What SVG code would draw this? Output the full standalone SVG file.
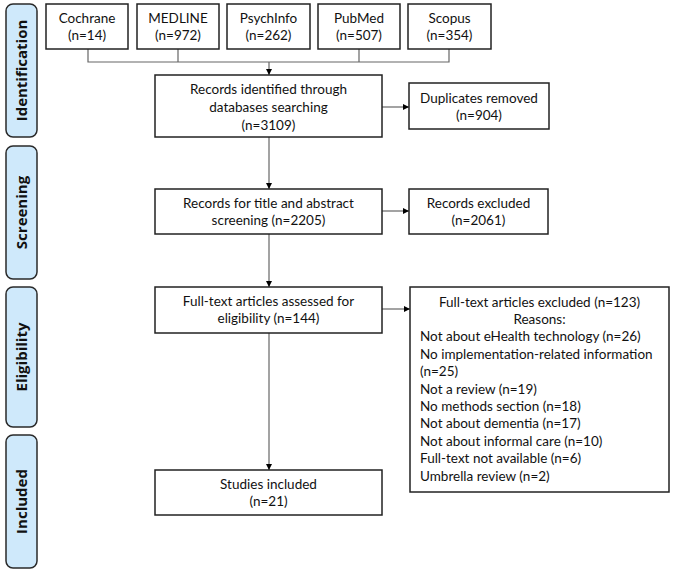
<svg xmlns="http://www.w3.org/2000/svg" width="676" height="573" viewBox="0 0 676 573">
<style>
.box{fill:#fff;stroke:#222;stroke-width:1.5}
.side{fill:#cfe9fb;stroke:#2a2a2a;stroke-width:1.5}
.t{font-family:Lato,"Open Sans","Liberation Sans",sans-serif;font-size:13.5px;fill:#111;text-anchor:middle}
.tl{font-family:Lato,"Open Sans","Liberation Sans",sans-serif;font-size:13.5px;fill:#111}
.s{font-family:"Open Sans","Liberation Sans",sans-serif;font-size:15px;font-weight:bold;fill:#111;text-anchor:middle}
.c{fill:none;stroke:#666;stroke-width:1.2}
</style>
<defs>
<marker id="ah" viewBox="0 0 10 10" refX="10" refY="5" markerWidth="6" markerHeight="6" orient="auto" markerUnits="userSpaceOnUse">
<path d="M0,0L10,5L0,10z" fill="#000"/>
</marker>
</defs>
<g id="side-identification"><rect class="side" x="6" y="4" width="31" height="133" rx="7"/><text class="s" transform="translate(27,70.5) rotate(-90)">Identification</text></g>
<g id="side-screening"><rect class="side" x="6" y="146" width="31" height="133" rx="7"/><text class="s" transform="translate(27,212.5) rotate(-90)">Screening</text></g>
<g id="side-eligibility"><rect class="side" x="6" y="287" width="31" height="140" rx="7"/><text class="s" transform="translate(27,357) rotate(-90)">Eligibility</text></g>
<g id="side-included"><rect class="side" x="6" y="435" width="31" height="133" rx="7"/><text class="s" transform="translate(27,501.5) rotate(-90)">Included</text></g>

<g id="connectors">
<path class="c" d="M88,49V62H449V49M178,49V62M359,49V62"/>
<path class="c" d="M269,62V75" marker-end="url(#ah)"/>
<path class="c" d="M382,107H409" marker-end="url(#ah)"/>
<path class="c" d="M269,137V189" marker-end="url(#ah)"/>
<path class="c" d="M382,211H409" marker-end="url(#ah)"/>
<path class="c" d="M269,234V287" marker-end="url(#ah)"/>
<path class="c" d="M382,309H410" marker-end="url(#ah)"/>
<path class="c" d="M269,333V470" marker-end="url(#ah)"/>
</g>

<g id="cochrane"><rect class="box" x="46" y="4" width="82" height="45"/><text class="t" x="87" y="23">Cochrane</text><text class="t" x="87" y="40">(n=14)</text></g>
<g id="medline"><rect class="box" x="137" y="4" width="82" height="45"/><text class="t" x="178" y="23">MEDLINE</text><text class="t" x="178" y="40">(n=972)</text></g>
<g id="psychinfo"><rect class="box" x="227" y="4" width="83" height="45"/><text class="t" x="268.5" y="23">PsychInfo</text><text class="t" x="268.5" y="40">(n=262)</text></g>
<g id="pubmed"><rect class="box" x="318" y="4" width="82" height="45"/><text class="t" x="359" y="23">PubMed</text><text class="t" x="359" y="40">(n=507)</text></g>
<g id="scopus"><rect class="box" x="408" y="4" width="83" height="45"/><text class="t" x="449.5" y="23">Scopus</text><text class="t" x="449.5" y="40">(n=354)</text></g>

<g id="identified"><rect class="box" x="155" y="75" width="227" height="62"/><text class="t" x="268.5" y="94">Records identified through</text><text class="t" x="268.5" y="112">databases searching</text><text class="t" x="268.5" y="130">(n=3109)</text></g>
<g id="duplicates"><rect class="box" x="409" y="83" width="140" height="46"/><text class="t" x="479" y="103">Duplicates removed</text><text class="t" x="479" y="120">(n=904)</text></g>

<g id="screening"><rect class="box" x="155" y="189" width="227" height="45"/><text class="t" x="268.5" y="208">Records for title and abstract</text><text class="t" x="268.5" y="225">screening (n=2205)</text></g>
<g id="excluded"><rect class="box" x="409" y="189" width="139" height="45"/><text class="t" x="478.5" y="208">Records excluded</text><text class="t" x="478.5" y="225">(n=2061)</text></g>

<g id="fulltext"><rect class="box" x="155" y="287" width="227" height="46"/><text class="t" x="268.5" y="306">Full-text articles assessed for</text><text class="t" x="268.5" y="323">eligibility (n=144)</text></g>
<g id="ft-excluded"><rect class="box" x="410" y="287" width="259" height="205"/>
<text class="t" x="539.5" y="307">Full-text articles excluded (n=123)</text>
<text class="t" x="539.5" y="324">Reasons:</text>
<text class="tl" x="420" y="341">Not about eHealth technology (n=26)</text>
<text class="tl" x="420" y="359">No implementation-related information</text>
<text class="tl" x="420" y="376">(n=25)</text>
<text class="tl" x="420" y="394">Not a review (n=19)</text>
<text class="tl" x="420" y="411">No methods section (n=18)</text>
<text class="tl" x="420" y="428">Not about dementia (n=17)</text>
<text class="tl" x="420" y="446">Not about informal care (n=10)</text>
<text class="tl" x="420" y="463">Full-text not available (n=6)</text>
<text class="tl" x="420" y="481">Umbrella review (n=2)</text>
</g>
<g id="included"><rect class="box" x="155" y="470" width="227" height="45"/><text class="t" x="268.5" y="489">Studies included</text><text class="t" x="268.5" y="506">(n=21)</text></g>
</svg>
